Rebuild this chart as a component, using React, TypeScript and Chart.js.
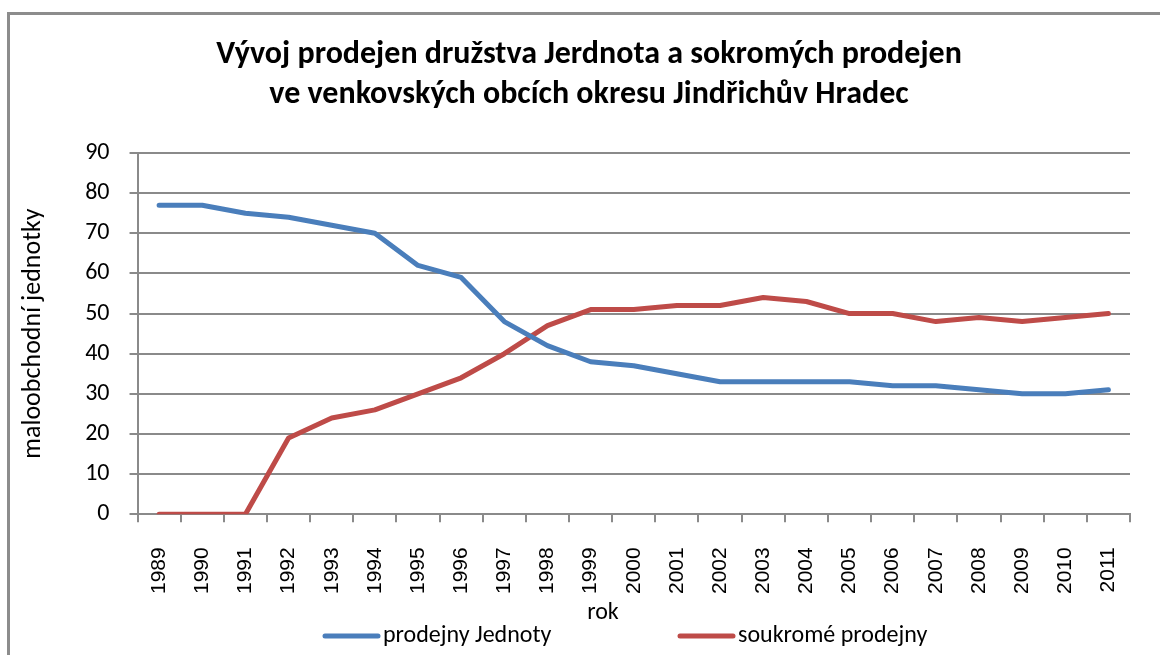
import React, { useEffect, useRef } from "react";
import { Chart, registerables } from "chart.js";

Chart.register(...registerables);

const years = ["1989","1990","1991","1992","1993","1994","1995","1996","1997","1998","1999","2000","2001","2002","2003","2004","2005","2006","2007","2008","2009","2010","2011"];
const jednoty = [77,77,75,74,72,70,62,59,48,42,38,37,35,33,33,33,33,32,32,31,30,30,31];
const soukrome = [0,0,0,19,24,26,30,34,40,47,51,51,52,52,54,53,50,50,48,49,48,49,50];
const titleLines = ["Vývoj prodejen družstva Jerdnota a sokromých prodejen", "ve venkovských obcích okresu Jindřichův Hradec"];
const yTitle = "maloobchodní jednotky";
const xTitle = "rok";
const seriesNames = ["prodejny Jednoty", "soukromé prodejny"];
const seriesColors = ["#4a7ebb", "#be4b48"];

const FONT = "Carlito, Lato, 'Liberation Sans', sans-serif";
const GRID = "#8a8a8a";

const decorPlugin = {
  id: "decor",
  afterDraw(chart: any) {
    const ctx = chart.ctx;
    ctx.save();
    // title
    ctx.fillStyle = "#000";
    ctx.font = `bold 32px ${FONT}`;
    ctx.textAlign = "center";
    ctx.textBaseline = "middle";
    titleLines.forEach((t, i) => ctx.fillText(t, 589, 55 + i * 40));
    // x axis title
    ctx.font = `24px ${FONT}`;
    ctx.fillText(xTitle, 603, 613);
    // legend
    const xs = [325, 680];
    const y = 636;
    chart.data.datasets.forEach((ds: any, i: number) => {
      const x = xs[i];
      ctx.strokeStyle = ds.borderColor;
      ctx.lineWidth = 5;
      ctx.lineCap = "round";
      ctx.beginPath();
      ctx.moveTo(x, y);
      ctx.lineTo(x + 53, y);
      ctx.stroke();
      ctx.fillStyle = "#000";
      ctx.font = `24px ${FONT}`;
      ctx.textBaseline = "middle";
      ctx.textAlign = "left";
      ctx.fillText(ds.label, x + 58, y);
    });
    ctx.restore();
  },
};

export default function App() {
  const ref = useRef<HTMLCanvasElement | null>(null);
  useEffect(() => {
    if (!ref.current) return;
    const chart = new Chart(ref.current, {
      type: "line",
      data: {
        labels: years,
        datasets: [
          { label: seriesNames[0], data: jednoty, borderColor: seriesColors[0], backgroundColor: seriesColors[0], borderWidth: 5, pointRadius: 0, tension: 0, borderCapStyle: "round", borderJoinStyle: "round" },
          { label: seriesNames[1], data: soukrome, borderColor: seriesColors[1], backgroundColor: seriesColors[1], borderWidth: 5, pointRadius: 0, tension: 0, borderCapStyle: "round", borderJoinStyle: "round" },
        ],
      },
      options: {
        animation: false,
        responsive: false,
        maintainAspectRatio: false,
        layout: { padding: { left: 14, right: 30, top: 153, bottom: 36 } },
        plugins: {
          legend: { display: false },
          tooltip: { enabled: false },
          title: { display: false },
        },
        scales: {
          x: {
            offset: true,
            grid: { offset: true, drawOnChartArea: false, drawTicks: true, tickLength: 8, color: GRID, lineWidth: 2 },
            border: { display: true, color: GRID, width: 2 },
            ticks: { color: "#000", font: { family: "'Liberation Sans', Arial, sans-serif", size: 21 }, minRotation: 90, maxRotation: 90, padding: 25, autoSkip: false },
            title: { display: false },
          },
          y: {
            min: 0,
            max: 90,
            ticks: { stepSize: 10, color: "#000", font: { family: FONT, size: 24 }, padding: 20 },
            grid: { color: GRID, lineWidth: 2, drawTicks: true, tickLength: 8 },
            border: { display: true, color: GRID, width: 2 },
            title: { display: true, text: yTitle, color: "#000", font: { family: FONT, size: 26 }, padding: { top: 4, bottom: 16 } },
          },
        },
      },
      plugins: [decorPlugin],
    });
    return () => chart.destroy();
  }, []);
  return (
    <div style={{ position: "fixed", left: 0, top: 0, width: 1160, height: 655, overflow: "hidden", background: "#fff" }}>
      <div style={{ position: "absolute", left: 7, top: 12, width: 1300, height: 800, borderLeft: "3px solid #8c8c8c", borderTop: "3px solid #8c8c8c" }} />
      <canvas ref={ref} width={1160} height={655} style={{ position: "absolute", left: 0, top: 0, width: 1160, height: 655 }} />
    </div>
  );
}
